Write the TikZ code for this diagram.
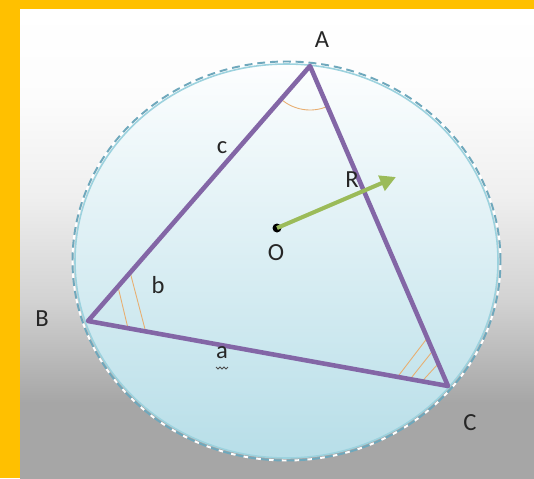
\documentclass[tikz,border=0pt]{standalone}
\usepackage{fontspec}
\setmainfont{Carlito}
\usepackage{tikz}
\usetikzlibrary{arrows.meta, calc}
\definecolor{framegold}{HTML}{FFC000}
\definecolor{bggray}{HTML}{A6A6A6}
\definecolor{discblue}{HTML}{B7DEE8}
\definecolor{rimline}{HTML}{9CD2DE}
\definecolor{rimdash}{HTML}{6FA8BC}
\definecolor{tripurple}{HTML}{8366A6}
\definecolor{rgreen}{HTML}{9BBB59}
\definecolor{hatch}{HTML}{E8AE70}
\pgfdeclareverticalshading{backdrop}{100bp}{color(0bp)=(bggray); color(33bp)=(bggray); color(44bp)=(white!50!bggray); color(55bp)=(white!82!bggray); color(66bp)=(white!97!bggray); color(75bp)=(white); color(100bp)=(white)}

\begin{document}
\begin{tikzpicture}[x=0.02cm, y=0.02cm,
  lbl/.style={font=\fontsize{14}{16}\selectfont, text=black!85, inner sep=0pt},
  anglemark/.style={hatch, line width=0.5pt}]
\useasboundingbox (0,0) rectangle (534,478);
% backdrop and gold frame
\fill[shading=backdrop] (20,0) rectangle (534,469);
\fill[framegold] (0,0) rectangle (20,478);
\fill[framegold] (20,469) rectangle (534,478);

% circumcircle
\fill[top color=white!97!discblue, bottom color=discblue] (286.5,217) ellipse [x radius=211.5, y radius=197];
\draw[rimline, line width=0.9pt] (286.5,217) ellipse [x radius=211.5, y radius=197];
\draw[white, line width=1.1pt, dash pattern=on 2.8pt off 4.5pt, dash phase=2.8pt] (286.5,217) ellipse [x radius=214, y radius=199.5];
\draw[rimdash, line width=1.1pt, dash pattern=on 4.5pt off 2.8pt] (286.5,217) ellipse [x radius=214, y radius=199.5];

% vertices
\coordinate (A) at (310,412);
\coordinate (B) at (88,157);
\coordinate (C) at (448,92);

% angle marks
\draw[anglemark] ($(A)+(229:44)$) arc[start angle=229, end angle=293.3, radius=44];
\draw[anglemark] ($(B)!0.135!(A)$) -- ($(B)!0.111!(C)$);
\draw[anglemark] ($(B)!0.19!(A)$) -- ($(B)!0.16!(C)$);
\draw[anglemark] ($(C)!0.14!(B)$) -- ($(C)!0.15!(A)$);
\draw[anglemark] ($(C)!0.105!(B)$) -- ($(C)!0.11!(A)$);
\draw[anglemark] ($(C)!0.072!(B)$) -- ($(C)!0.07!(A)$);

% triangle
\draw[tripurple, line width=2.6pt, line join=round] (A) -- (B) -- (C) -- cycle;

% centre and radius
\node[circle, fill=black, inner sep=0pt, minimum size=0.18cm] (O) at (277,250) {};
\coordinate (Rtip) at (396,301);
\draw[rgreen, line width=2.3pt, -{Triangle[length=9pt, width=9pt]}] (O.center) -- (Rtip);

% labels
\node[lbl] (labA) at (322,438) {A};
\node[lbl] (labB) at (42,159) {B};
\node[lbl] (labC) at (470,55) {C};
\node[lbl] (labO) at (276,225) {O};
\node[lbl] (labR) at (352,298) {R};
\node[lbl] (labc) at (222,330) {c};
\node[lbl] (labb) at (158,193) {b};
\node[lbl] (laba) at (222,125) {a};
\draw[black!70, line width=0.5pt] (216,111) -- (218,109) -- (220,111) -- (222,109) -- (224,111) -- (226,109) -- (228,111);
\end{tikzpicture}
\end{document}
